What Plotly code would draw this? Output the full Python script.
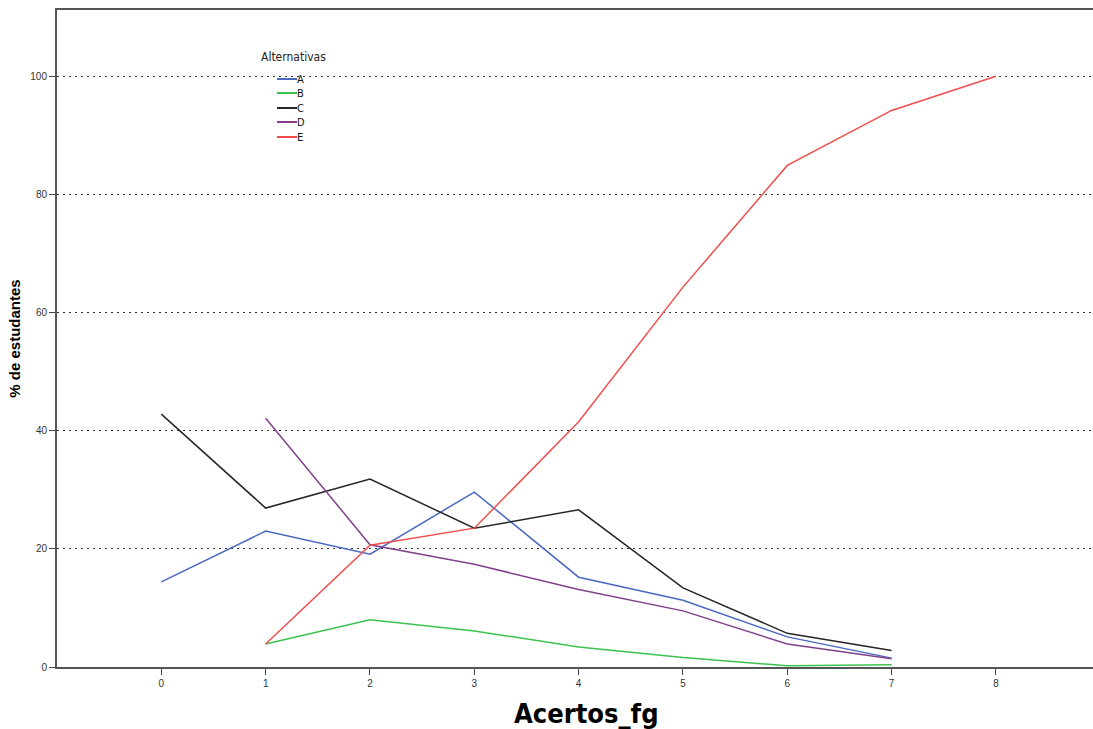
import plotly.graph_objects as go

# ---- data ----
alt_names = ["A", "B", "C", "D", "E"]
x_A = [0, 1, 2, 3, 4, 5, 6, 7]
y_A = [14.4, 23.0, 19.1, 29.6, 15.2, 11.3, 5.1, 1.5]
x_B = [1, 2, 3, 4, 5, 6, 7]
y_B = [3.9, 8.0, 6.1, 3.4, 1.6, 0.2, 0.4]
x_C = [0, 1, 2, 3, 4, 5, 6, 7]
y_C = [42.8, 26.9, 31.8, 23.5, 26.6, 13.4, 5.7, 2.8]
x_D = [1, 2, 3, 4, 5, 6, 7]
y_D = [42.1, 20.7, 17.4, 13.1, 9.5, 3.9, 1.4]
x_E = [1, 2, 3, 4, 5, 6, 7, 8]
y_E = [3.9, 20.6, 23.5, 41.5, 64.3, 84.9, 94.2, 100.0]
x_ticks = [0, 1, 2, 3, 4, 5, 6, 7, 8]
y_ticks = [0, 20, 40, 60, 80, 100]

colors = ["#4a68c0", "#3cc24f", "#262626", "#80408a", "#f24d4d"]
series = [(x_A, y_A), (x_B, y_B), (x_C, y_C), (x_D, y_D), (x_E, y_E)]

NARROW = "Liberation Sans Narrow, DejaVu Sans Condensed, Liberation Sans, sans-serif"
SANS = "Liberation Sans, Arial, sans-serif"

W, H = 1093, 729
L, R, T, B = 57, 0, 10, 62
pw, ph = W - L - R, H - T - B

def px2x(px):
    return (px - L) / pw

def py2y(py):
    return (H - B - py) / ph

fig = go.Figure()
for name, (xs, ys), c in zip(alt_names, series, colors):
    fig.add_trace(go.Scatter(x=xs, y=ys, mode="lines", name=name,
                             line=dict(color=c, width=1.5), showlegend=False))

# manual legend
shapes = []
annotations = []
annotations.append(dict(text="Alternativas", xref="paper", yref="paper",
                        x=px2x(259), y=py2y(57), xanchor="left", yanchor="middle",
                        showarrow=False,
                        font=dict(family=NARROW, size=12, color="#222")))
leg_y = [79, 93, 108, 122, 137]
for name, c, ly in zip(alt_names, colors, leg_y):
    shapes.append(dict(type="line", xref="paper", yref="paper",
                       x0=px2x(277), x1=px2x(297), y0=py2y(ly), y1=py2y(ly),
                       line=dict(color=c, width=2)))
    annotations.append(dict(text=name, xref="paper", yref="paper",
                            x=px2x(295), y=py2y(ly), xanchor="left", yanchor="middle",
                            showarrow=False,
                            font=dict(family=NARROW, size=11, color="#111")))

annotations.append(dict(text="<b>Acertos_fg</b>", xref="paper", yref="paper",
                        x=px2x(586), y=py2y(731), xanchor="center", yanchor="bottom",
                        showarrow=False,
                        font=dict(family=NARROW, size=27, color="#000")))

fig.update_layout(
    width=W, height=H,
    margin=dict(l=L, r=R, t=T, b=B),
    plot_bgcolor="white", paper_bgcolor="white",
    shapes=shapes, annotations=annotations,
    font=dict(family=SANS, size=10, color="#333"),
)
fig.update_xaxes(range=[-1, 8.93], tickvals=x_ticks, ticktext=[str(v) for v in x_ticks],
                 showgrid=False, zeroline=False,
                 showline=True, linecolor="#555", linewidth=1.5, mirror=True,
                 ticks="outside", ticklen=6, tickcolor="#444",
                 tickfont=dict(family=SANS, size=10, color="#333"))
fig.update_yaxes(range=[0, 111.2], tickvals=y_ticks, ticktext=[str(v) for v in y_ticks],
                 showgrid=True, gridcolor="#333", gridwidth=1, griddash="2px,4px",
                 zeroline=False,
                 showline=True, linecolor="#555", linewidth=2,
                 ticks="outside", ticklen=6, tickcolor="#444",
                 tickfont=dict(family=SANS, size=10, color="#333"),
                 title=dict(text="<b>% de estudantes</b>", standoff=6,
                            font=dict(family=SANS, size=15, color="#000")))

fig.write_html("out.html", config={"displayModeBar": False},
               post_script="document.body.style.margin='0';document.body.style.overflow='hidden';")
